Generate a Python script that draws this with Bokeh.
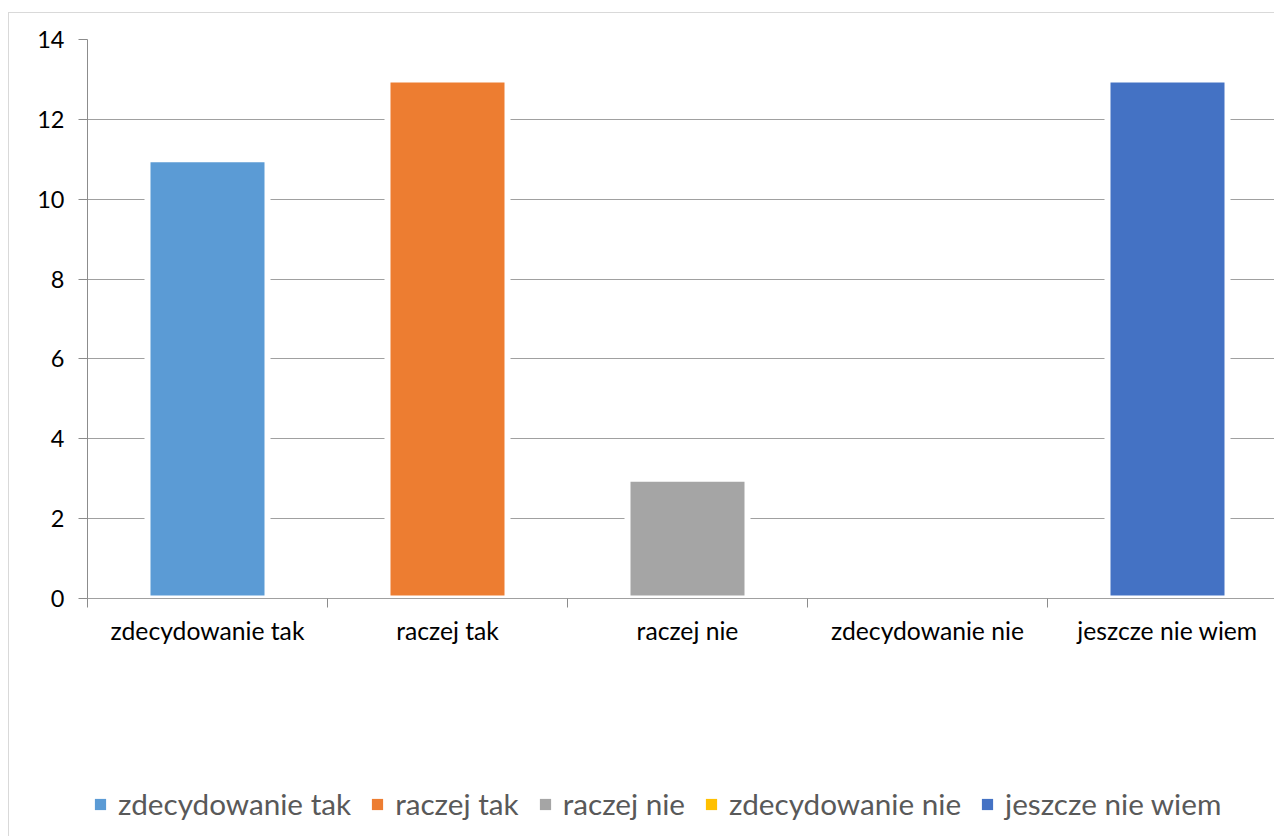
import numpy as np
from bokeh.plotting import figure
from bokeh.layouts import column
from bokeh.models import (ColumnDataSource, Range1d, FixedTicker, Legend, LegendItem)
from bokeh.embed import file_html
from bokeh.resources import INLINE

categories = ["zdecydowanie tak", "raczej tak", "raczej nie", "zdecydowanie nie", "jeszcze nie wiem"]
values = [11, 13, 3, 0, 13]
colors = ["#5B9BD5", "#ED7D31", "#A5A5A5", "#FFC000", "#4472C4"]
y_ticks = [0, 2, 4, 6, 8, 10, 12, 14]

FONT = "Lato"
AXIS_COLOR = "#8C8C8C"
GRID_COLOR = "#A0A0A0"

W = 1265
H1 = 645
H2 = 178
left = 78
top = 26
bottom = 60
band_px = 240
x_end = (W - left) / band_px

xs = np.arange(len(categories)) + 0.5
src = ColumnDataSource(dict(x=xs, top=values, color=colors, label=categories))

# ---- main chart ----
p = figure(width=W, height=H1, output_backend="svg", toolbar_location=None,
           x_range=Range1d(0, x_end), y_range=Range1d(0, 14),
           min_border_left=left, min_border_right=0, min_border_top=top,
           min_border_bottom=bottom)
p.outline_line_color = None

yticker = FixedTicker(ticks=y_ticks)
yaxis = p.yaxis[0]
yaxis.ticker = yticker
yaxis.axis_line_color = AXIS_COLOR
yaxis.major_tick_line_color = AXIS_COLOR
yaxis.major_tick_out = 9
yaxis.major_tick_in = 0
yaxis.minor_tick_line_color = None
yaxis.major_label_text_font = FONT
yaxis.major_label_text_font_size = "23.5px"
yaxis.major_label_text_color = "black"
yaxis.major_label_standoff = 14

p.xgrid.visible = False
p.ygrid.ticker = yticker
p.ygrid.grid_line_color = GRID_COLOR

xticker = FixedTicker(ticks=list(xs), minor_ticks=list(range(len(categories) + 1)))
xaxis = p.xaxis[0]
xaxis.ticker = xticker
xaxis.axis_line_color = GRID_COLOR
xaxis.major_tick_line_color = None
xaxis.major_tick_out = 0
xaxis.major_tick_in = 0
xaxis.minor_tick_line_color = AXIS_COLOR
xaxis.minor_tick_out = 9
xaxis.minor_tick_in = 0
xaxis.major_label_overrides = {float(x): c for x, c in zip(xs, categories)}
xaxis.major_label_text_font = FONT
xaxis.major_label_text_font_size = "24.7px"
xaxis.major_label_text_color = "black"
xaxis.major_label_standoff = 8

p.vbar(x="x", top="top", width=0.5, source=src, fill_color="color",
       line_color="white", line_width=6)

# ---- legend strip ----
p2 = figure(width=W, height=H2, output_backend="svg", toolbar_location=None,
            x_range=Range1d(0, 1), y_range=Range1d(0, 1),
            x_axis_location=None, y_axis_location=None,
            min_border_left=0, min_border_right=0, min_border_top=0, min_border_bottom=0)
p2.outline_line_color = None
p2.grid.visible = False

lr = p2.vbar(x="x", top="top", width=0, source=src, fill_color="color", line_color=None)
items = [LegendItem(label=categories[i], renderers=[lr], index=i) for i in range(len(categories))]
legend = Legend(items=items, orientation="horizontal", location=(6, 15),
                glyph_width=14, glyph_height=14, label_standoff=11, spacing=19,
                padding=0, margin=0, border_line_color=None, background_fill_alpha=0,
                label_text_font=FONT, label_text_font_size="29.7px",
                label_text_color="#595959")
p2.add_layout(legend)

layout = column(p, p2, spacing=0)
layout.styles = {"margin-left": "8px", "margin-top": "12px",
                 "border-left": "1px solid #D9D9D9", "border-top": "1px solid #D9D9D9"}

open("out.html", "w").write(file_html(layout, INLINE))
